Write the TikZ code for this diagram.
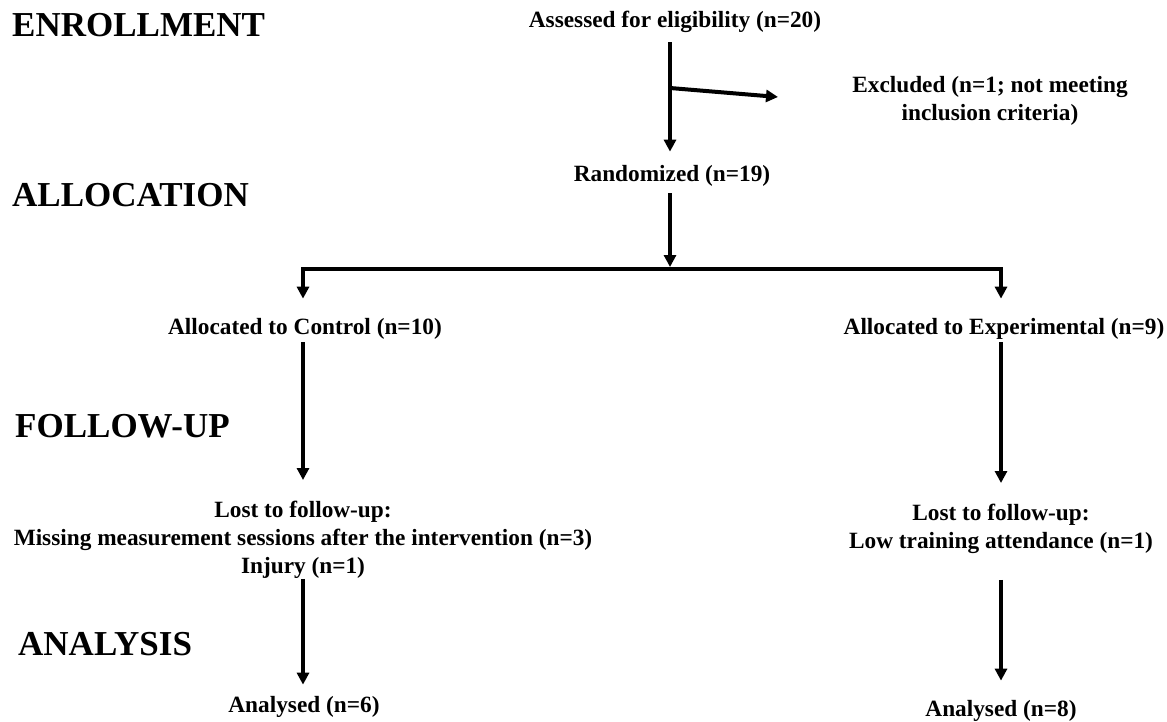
\documentclass[tikz,border=0pt]{standalone}
\usepackage{fontspec}
\setmainfont{Liberation Serif}
\usetikzlibrary{arrows.meta}

\begin{document}
\begin{tikzpicture}[
  x=1pt, y=-1pt,
  phase/.style={anchor=base west, inner sep=0pt, font=\fontsize{35}{40}\selectfont\bfseries},
  info/.style={inner sep=0pt, align=center, font=\fontsize{23.3}{28}\selectfont\bfseries},
  flow/.style={line width=4pt, line join=miter, -{Triangle[width=12pt,length=12pt]}}
]
\useasboundingbox (0,0) rectangle (1167,722);

\node[phase] (enroll) at (12,37) {ENROLLMENT};
\node[phase] (alloc) at (12,207) {ALLOCATION};
\node[phase] (follow) at (15,437) {FOLLOW-UP};
\node[phase] (analysis) at (18,655) {ANALYSIS};

\node[info, anchor=base] (assess) at (675,28) {Assessed for eligibility (n=20)};
\node[info, anchor=north] (excl) at (990,76) {Excluded (n=1; not meeting\\inclusion criteria)};
\node[info, anchor=base] (rand) at (672,182) {Randomized (n=19)};
\node[info, anchor=base] (ctrl) at (305,334) {Allocated to Control (n=10)};
\node[info, anchor=base] (expt) at (1004,334) {Allocated to Experimental (n=9)};
\node[info, anchor=north] (lostc) at (303,501) {Lost to follow-up:\\Missing measurement sessions after the intervention (n=3)\\Injury (n=1)};
\node[info, anchor=north] (loste) at (1001,504) {Lost to follow-up:\\Low training attendance (n=1)};
\node[info, anchor=base] (anac) at (304,712) {Analysed (n=6)};
\node[info, anchor=base] (anae) at (1001,716) {Analysed (n=8)};

\coordinate (exbr) at (670,88);
\coordinate (extip) at (778,97);
\coordinate (split) at (670,269);

\draw[flow, shorten <=9pt, shorten >=14pt] (assess.south -| exbr) -- (rand.north -| exbr);
\draw[flow] (exbr) -- (extip);
\draw[flow, shorten <=6pt, shorten >=2pt] (rand.south -| split) -- (split);
\draw[flow, shorten >=19pt] (split) -| (ctrl.north -| lostc);
\draw[flow, shorten >=19pt] (split) -| (expt.north -| loste);
\draw[flow, shorten <=3pt, shorten >=21pt] (ctrl.south -| lostc) -- (lostc.north);
\draw[flow, shorten <=3pt, shorten >=21pt] (expt.south -| loste) -- (loste.north);
\draw[flow, shorten >=11pt] (lostc.south) -- (anac.north -| lostc);
\draw[flow, shorten <=26pt, shorten >=19pt] (loste.south) -- (anae.north -| loste);

\end{tikzpicture}
\end{document}
